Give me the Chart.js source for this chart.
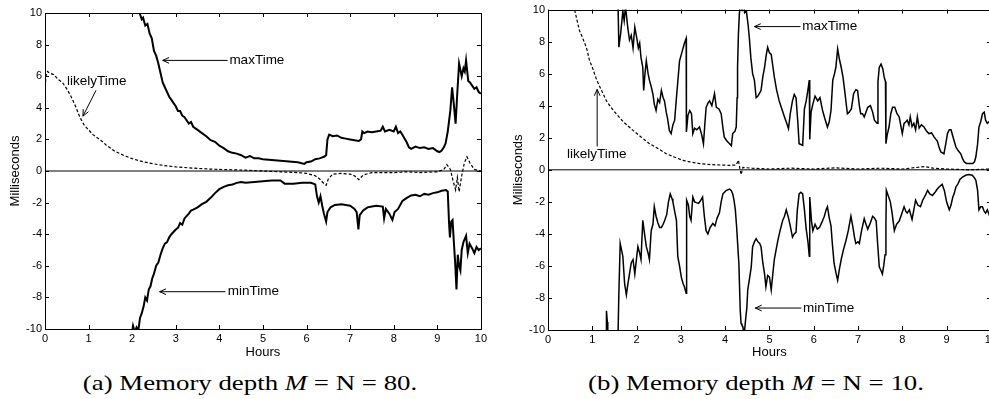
<!DOCTYPE html>
<html>
<head>
<meta charset="utf-8">
<title>Memory depth</title>
<script src="https://cdn.jsdelivr.net/npm/chart.js@4.4.0/dist/chart.umd.min.js"></script>
<style>
  body { margin: 0; background: #fff; width: 989px; height: 399px; overflow: hidden; position: relative; }
  canvas { position: absolute; top: 0; }
  .cap { position: absolute; top: 370px; width: 500px; text-align: center; transform: scaleX(1.22);
         font-family: 'Liberation Serif', serif; font-size: 22px; line-height: 26px; color: #000; }
</style>
</head>
<body>
<canvas id="chartA" width="490" height="360" style="left:0"></canvas>
<canvas id="chartB" width="500" height="360" style="left:500px"></canvas>
<div class="cap" style="left:0">(a) Memory depth <i>M</i> = N = 80.</div>
<div class="cap" style="left:506px">(b) Memory depth <i>M</i> = N = 10.</div>
<script>
/*------------------------------- DATA -------------------------------*/
// hours / milliseconds, one pair of arrays per curve
var hourTicks = [0, 1, 2, 3, 4, 5, 6, 7, 8, 9, 10];
var msTicks   = [-10, -8, -6, -4, -2, 0, 2, 4, 6, 8, 10];
var zeroT = [0, 10];
var zeroV = [0, 0];

// (a) M = N = 80
var likelyAT = [0, 0.02, 0.06, 0.1, 0.2, 0.3, 0.4, 0.5, 0.6, 0.7, 0.8, 0.9, 1.0, 1.1, 1.2, 1.3, 1.4, 1.5, 1.6, 1.8,
  2.0, 2.2, 2.4, 2.6, 2.8, 3.0, 3.2, 3.4, 3.6, 3.8, 4.0, 4.3, 4.6, 5.0, 5.4, 5.8, 6.0, 6.2, 6.3, 6.4, 6.45, 6.5, 6.6,
  6.8, 7.0, 7.1, 7.2, 7.3, 7.5, 7.8, 8.0, 8.3, 8.6, 9.0, 9.15, 9.22, 9.3, 9.36, 9.42, 9.46, 9.5, 9.56, 9.62, 9.68,
  9.75, 9.85, 10];
var likelyAV = [5.0, 6.0, 6.3, 6.2, 6.1, 5.8, 5.6, 5.2, 4.7, 4.1, 3.4, 2.9, 2.6, 2.3, 2.1, 1.9, 1.65, 1.45, 1.25, 1.0,
  0.78, 0.62, 0.5, 0.4, 0.32, 0.26, 0.22, 0.18, 0.15, 0.12, 0.1, 0.08, 0.05, 0.0, -0.05, -0.1, -0.15, -0.3, -0.5, -0.8,
  -0.9, -0.5, -0.2, -0.15, -0.2, -0.3, -0.55, -0.25, -0.1, -0.1, -0.1, -0.05, -0.1, -0.05, 0.1, 0.4, 0.1, -0.6, -1.2,
  -0.4, -1.3, -0.3, 0.5, 0.9, 0.5, 0.1, 0.0];

var maxAT = [2.0, 2.12, 2.17, 2.22, 2.25, 2.3, 2.35, 2.4, 2.45, 2.5, 2.55, 2.6, 2.65, 2.7, 2.75, 2.8, 2.85, 2.9, 2.95,
  3.0, 3.05, 3.1, 3.15, 3.2, 3.3, 3.35, 3.4, 3.5, 3.6, 3.7, 3.8, 3.9, 4.0, 4.1, 4.2, 4.3, 4.4, 4.5, 4.6, 4.7, 4.8, 4.9,
  5.0, 5.2, 5.4, 5.6, 5.8, 5.95, 6.0, 6.1, 6.2, 6.3, 6.4, 6.45, 6.48, 6.52, 6.6, 6.7, 6.8, 6.9, 7.0, 7.1, 7.2, 7.25,
  7.28, 7.32, 7.4, 7.5, 7.6, 7.7, 7.75, 7.8, 7.9, 8.0, 8.05, 8.1, 8.15, 8.2, 8.3, 8.35, 8.4, 8.5, 8.6, 8.7, 8.8, 8.9,
  9.0, 9.05, 9.1, 9.15, 9.19, 9.24, 9.3, 9.34, 9.38, 9.42, 9.46, 9.5, 9.56, 9.6, 9.63, 9.66, 9.71, 9.75, 9.8, 9.85,
  9.9, 9.95, 10];
var maxAV = [12, 10.6, 10.0, 9.6, 9.7, 9.2, 9.3, 8.7, 8.4, 7.6, 7.3, 6.8, 6.2, 5.6, 5.3, 5.0, 4.7, 4.5, 4.3,
  4.1, 3.8, 3.8, 3.5, 3.4, 3.0, 3.1, 2.8, 2.6, 2.4, 2.2, 1.95, 1.85, 1.6, 1.45, 1.25, 1.15, 1.1, 1.0, 0.85, 0.95, 0.8, 0.8,
  0.75, 0.7, 0.65, 0.6, 0.55, 0.45, 0.55, 0.6, 0.75, 0.8, 0.9, 1.0, 2.0, 2.3, 2.2, 2.25, 2.1, 2.05, 2.0, 1.95, 1.9, 2.0,
  2.5, 2.4, 2.5, 2.45, 2.5, 2.55, 2.8, 2.5, 2.6, 2.5, 2.8, 2.4, 2.5, 2.3, 1.8, 1.5, 1.4, 1.55, 1.45, 1.5, 1.4, 1.45,
  1.25, 1.2, 1.3, 1.5, 1.75, 2.5, 3.85, 5.3, 4.2, 3.0, 5.0, 6.8, 6.0, 6.5, 6.3, 7.0, 5.7, 5.6, 5.4, 5.2,
  5.3, 5.0, 4.9];

var minAT = [1.9, 2.02, 2.06, 2.1, 2.14, 2.18, 2.22, 2.26, 2.3, 2.34, 2.38, 2.42, 2.46, 2.5, 2.55, 2.6, 2.65, 2.7, 2.75,
  2.8, 2.85, 2.9, 3.0, 3.05, 3.1, 3.15, 3.2, 3.3, 3.35, 3.4, 3.5, 3.6, 3.7, 3.8, 3.9, 4.0, 4.1, 4.2, 4.3, 4.4, 4.5, 4.6,
  4.8, 5.0, 5.2, 5.4, 5.5, 5.7, 5.9, 6.1, 6.2, 6.24, 6.28, 6.32, 6.36, 6.4, 6.45, 6.48, 6.55, 6.65, 6.8, 6.9, 7.0, 7.1,
  7.15, 7.19, 7.22, 7.3, 7.4, 7.5, 7.6, 7.75, 7.78, 7.82, 7.9, 7.97, 8.02, 8.1, 8.2, 8.3, 8.4, 8.5, 8.6, 8.7, 8.8, 8.9,
  9.0, 9.1, 9.2, 9.24, 9.27, 9.29, 9.32, 9.35, 9.38, 9.41, 9.44, 9.47, 9.5, 9.53, 9.56, 9.6, 9.66, 9.7, 9.74, 9.8,
  9.85, 9.9, 9.95, 10];
var minAV = [-12, -9.8, -10.2, -9.9, -10.1, -9.3, -9.0, -8.6, -8.0, -8.2, -7.5, -7.3, -6.8, -6.5, -6.0, -5.8, -5.3, -4.9,
  -4.6, -4.5, -4.2, -4.0, -3.7, -3.6, -3.3, -3.4, -3.0, -2.7, -2.5, -2.45, -2.3, -2.1, -1.95, -1.7, -1.4, -1.15, -1.0,
  -0.9, -0.85, -0.75, -0.7, -0.75, -0.7, -0.65, -0.6, -0.6, -0.8, -0.8, -0.75, -0.75, -0.85, -1.6, -2.0, -1.6, -2.2,
  -2.7, -3.2, -2.6, -2.3, -2.15, -2.1, -2.15, -2.2, -2.4, -2.6, -3.7, -2.8, -2.5, -2.3, -2.25, -2.2, -2.25, -3.0, -2.4,
  -2.7, -3.1, -2.6, -2.4, -1.9, -1.7, -1.55, -1.5, -1.6, -1.45, -1.5, -1.4, -1.35, -1.25, -1.2, -1.3, -3.3, -4.2, -3.2,
  -3.1, -4.5, -5.8, -7.5, -5.3, -6.0, -6.3, -5.0, -4.5, -4.1, -5.2, -4.6, -4.9, -5.2, -4.8, -5.0, -4.9];

// (b) M = N = 10
var likelyBT = [0.3, 0.6, 0.65, 0.71, 0.77, 0.83, 0.88, 0.94, 1.0, 1.05, 1.1, 1.2, 1.32, 1.42, 1.54, 1.7, 1.92, 2.1,
  2.29, 2.5, 2.67, 2.85, 3.04, 3.2, 3.42, 3.7, 4.1, 4.25, 4.3, 4.33, 4.36, 4.4, 4.6, 5.0, 5.5, 6.0, 6.5, 7.0, 7.5, 8.0,
  8.5, 8.7, 9.0, 9.5, 10];
var likelyBV = [12, 10, 9.4, 8.7, 8.3, 7.9, 7.5, 6.8, 6.4, 6.0, 5.6, 5.0, 4.3, 3.9, 3.5, 3.0, 2.46, 2.05,
  1.63, 1.3, 1.0, 0.8, 0.59, 0.5, 0.39, 0.32, 0.28, 0.3, 0.6, 0.1, -0.3, 0.15, 0.1, 0.05, 0.1, 0.05, 0.12, 0.05, 0.1,
  0.05, 0.2, 0.1, 0.05, 0.0, 0.05];

var maxBT = [0, 1.55, 1.58, 1.6, 1.64, 1.69, 1.72, 1.75, 1.8, 1.84, 1.88, 1.92, 1.96, 2.0, 2.04, 2.07, 2.1, 2.14, 2.16,
  2.19, 2.22, 2.26, 2.29, 2.33, 2.37, 2.4, 2.44, 2.48, 2.52, 2.56, 2.6, 2.63, 2.67, 2.7, 2.74, 2.78, 2.82, 2.86, 2.9,
  2.94, 2.97, 3.02, 3.08, 3.12, 3.125, 3.16, 3.2, 3.24, 3.27, 3.31, 3.36, 3.42, 3.47, 3.51, 3.54, 3.57, 3.62, 3.65,
  3.7, 3.76, 3.8, 3.86, 3.91, 3.95, 3.98, 4.04, 4.1, 4.14, 4.17, 4.22, 4.25, 4.27, 4.28, 4.3, 4.32, 4.34, 4.38, 4.42,
  4.44, 4.48, 4.52, 4.55, 4.58, 4.62, 4.66, 4.7, 4.74, 4.78, 4.81, 4.85, 4.89, 4.93, 4.96, 5.0, 5.04, 5.08, 5.11,
  5.16, 5.22, 5.28, 5.34, 5.39, 5.43, 5.47, 5.52, 5.56, 5.6, 5.64, 5.67, 5.75, 5.79, 5.83, 5.87, 5.9, 5.91, 5.94,
  5.98, 6.03, 6.09, 6.14, 6.2, 6.25, 6.31, 6.35, 6.39, 6.43, 6.47, 6.5, 6.54, 6.58, 6.62, 6.66, 6.69, 6.73, 6.76, 6.8,
  6.85, 6.9, 6.95, 6.99, 7.03, 7.06, 7.1, 7.14, 7.18, 7.22, 7.28, 7.33, 7.37, 7.43, 7.45, 7.48, 7.52, 7.56, 7.59,
  7.62, 7.63, 7.66, 7.7, 7.74, 7.78, 7.83, 7.88, 7.93, 7.97, 8.0, 8.04, 8.08, 8.11, 8.15, 8.18, 8.22, 8.26, 8.3, 8.34,
  8.38, 8.43, 8.49, 8.55, 8.6, 8.66, 8.72, 8.76, 8.79, 8.83, 8.87, 8.94, 8.98, 9.02, 9.06, 9.1, 9.15, 9.21, 9.26,
  9.32, 9.36, 9.4, 9.45, 9.51, 9.59, 9.63, 9.66, 9.7, 9.73, 9.77, 9.81, 9.85, 9.88, 9.92, 9.96, 10];
var maxBV = [12, 12, 10.5, 7.65, 8.5, 9.9, 9.3, 10.2, 8.9, 8.1, 8.4, 7.6, 8.9, 8.3, 7.6, 7.9, 7.0, 6.4, 4.95,
  6.0, 6.8, 6.0, 5.6, 5.2, 4.7, 4.1, 3.7, 4.4, 4.2, 4.95, 4.5, 4.3, 3.6, 3.2, 2.46, 2.26, 2.8, 3.1, 4.5,
  5.8, 6.8, 7.3, 7.9, 8.2, 2.36, 3.4, 3.7, 3.5, 2.26, 2.6, 2.5, 2.67, 2.2, 1.63, 2.8, 3.9, 4.2, 4.3,
  4.0, 4.75, 3.9, 3.8, 3.5, 2.6, 2.04, 1.8, 1.63, 1.5, 2.26, 2.4, 2.67, 4.5, 6.4, 8.5, 9.7, 10.3, 10.0, 10.4,
  9.8, 9.9, 9.0, 8.1, 7.0, 6.0, 5.6, 4.5, 4.6, 4.8, 4.95, 5.8, 6.4, 7.2, 7.65, 7.3, 7.2, 6.4, 5.8,
  5.0, 4.3, 3.8, 3.3, 2.9, 2.57, 3.5, 4.3, 4.7, 4.5, 3.0, 1.63, 1.53, 3.8, 4.3, 5.0, 5.6, 1.9, 3.6,
  4.1, 4.6, 4.3, 4.5, 3.7, 3.2, 2.67, 3.0, 3.7, 5.6, 6.0, 6.4, 7.55, 6.9, 6.4, 5.8, 5.15, 4.2, 3.5, 3.6,
  3.8, 4.75, 5.0, 4.95, 4.0, 3.5, 3.5, 3.3, 3.6, 3.9, 4.0, 3.6, 3.1, 2.9, 5.5, 6.4, 6.6, 6.3, 5.8,
  5.5, 1.63, 2.2, 2.67, 3.5, 3.9, 3.9, 3.5, 3.3, 2.7, 2.26, 2.9, 3.0, 3.1, 2.8, 3.3, 2.7, 2.9, 2.5, 3.3,
  2.6, 2.8, 2.67, 2.4, 2.26, 2.3, 2.04, 1.9, 1.8, 1.4, 1.11, 1.0, 1.6, 2.26, 2.5, 2.5, 2.0, 1.42, 1.2,
  1.0, 0.7, 0.49, 0.4, 0.39, 0.39, 0.5, 0.8, 1.6, 2.67, 3.0, 3.5, 3.6, 3.1, 2.9, 3.0, 2.8];

var minBT = [0, 1.3, 1.31, 1.32, 1.34, 1.35, 1.55, 1.58, 1.6, 1.63, 1.66, 1.69, 1.73, 1.77, 1.8, 1.84, 1.88, 1.92, 1.96,
  2.0, 2.03, 2.07, 2.1, 2.14, 2.18, 2.22, 2.26, 2.29, 2.33, 2.37, 2.4, 2.44, 2.48, 2.52, 2.56, 2.6, 2.63, 2.68, 2.72,
  2.76, 2.8, 2.82, 2.86, 2.9, 2.93, 2.97, 3.01, 3.05, 3.08, 3.12, 3.13, 3.17, 3.2, 3.23, 3.27, 3.31, 3.35, 3.4, 3.45,
  3.49, 3.53, 3.57, 3.61, 3.66, 3.72, 3.77, 3.82, 3.87, 3.91, 3.95, 4.02, 4.1, 4.14, 4.17, 4.2, 4.23, 4.26, 4.29, 4.31,
  4.34, 4.36, 4.38, 4.4, 4.43, 4.46, 4.49, 4.51, 4.55, 4.59, 4.62, 4.66, 4.7, 4.74, 4.78, 4.81, 4.85, 4.89, 4.92, 4.96,
  5.0, 5.04, 5.08, 5.11, 5.15, 5.19, 5.24, 5.3, 5.34, 5.38, 5.43, 5.47, 5.52, 5.56, 5.6, 5.63, 5.67, 5.71, 5.75, 5.79,
  5.83, 5.87, 5.9, 5.91, 5.95, 5.98, 6.03, 6.08, 6.13, 6.18, 6.24, 6.28, 6.31, 6.35, 6.39, 6.42, 6.46, 6.5, 6.54, 6.58,
  6.62, 6.67, 6.73, 6.78, 6.84, 6.88, 6.92, 6.95, 7.0, 7.03, 7.08, 7.14, 7.18, 7.22, 7.28, 7.33, 7.37, 7.41, 7.44, 7.48,
  7.52, 7.55, 7.58, 7.61, 7.63, 7.64, 7.68, 7.73, 7.77, 7.82, 7.87, 7.93, 7.98, 8.04, 8.08, 8.11, 8.16, 8.22, 8.26, 8.3,
  8.35, 8.41, 8.46, 8.52, 8.57, 8.62, 8.68, 8.74, 8.79, 8.83, 8.9, 8.95, 9.0, 9.06, 9.1, 9.14, 9.17, 9.21, 9.26, 9.3,
  9.36, 9.43, 9.5, 9.58, 9.63, 9.66, 9.7, 9.73, 9.77, 9.81, 9.85, 9.88, 9.92, 9.96, 10];
var minBV = [-12, -12, -10.5, -8.8, -9.5, -12, -12, -10.5, -7.7, -4.6, -5.0, -5.4, -7.1, -7.8, -7.2, -6.5, -5.8, -5.6, -6.5,
  -5.5, -4.8, -5.2, -5.6, -3.15, -4.0, -4.8, -5.2, -5.6, -3.8, -3.4, -2.3, -2.9, -3.3, -3.6, -3.6, -3.4, -3.2, -2.8, -2.0,
  -1.5, -1.8, -2.0, -2.6, -3.15, -5.4, -6.0, -6.7, -7.1, -7.3, -7.7, -1.9, -2.2, -2.9, -3.15, -1.7, -2.0, -2.05, -2.1, -1.9,
  -1.7, -2.9, -3.8, -4.0, -3.6, -3.35, -3.5, -3.0, -2.7, -2.0, -1.5, -1.3, -1.2, -1.3, -1.5, -1.9, -2.5, -3.6, -5.0, -5.85,
  -8.75, -9.6, -9.7, -9.8, -10.3, -9.4, -8.6, -7.5, -6.8, -6.05, -4.8, -4.5, -4.3, -4.5, -4.6, -4.8, -5.8, -6.5, -7.3, -6.6,
  -6.7, -7.5, -6.4, -5.6, -5.0, -4.4, -3.8, -3.15, -2.9, -2.5, -3.0, -3.5, -4.2, -4.0, -3.9, -2.5, -1.5, -1.4, -1.5, -2.5,
  -3.7, -4.5, -5.4, -1.7, -3.2, -3.8, -3.4, -3.7, -3.6, -3.3, -2.9, -2.5, -2.3, -3.0, -3.5, -4.6, -5.85, -6.4, -6.9, -6.2,
  -5.6, -5.0, -4.4, -3.8, -2.9, -3.5, -4.2, -4.6, -4.5, -4.6, -3.8, -3.05, -3.4, -3.7, -3.3, -2.9, -3.0, -3.2, -4.5, -6.05,
  -6.3, -6.5, -6.0, -5.3, -3.5, -1.28, -1.6, -2.0, -2.7, -3.8, -3.4, -3.2, -2.8, -2.3, -2.6, -2.7, -2.5, -3.1, -2.5, -1.9,
  -2.2, -2.3, -1.9, -1.6, -1.28, -1.5, -1.6, -1.4, -1.2, -1.07, -0.9, -1.3, -2.0, -2.5, -2.2, -1.7, -1.5, -1.07, -0.86, -0.6,
  -0.45, -0.34, -0.3, -0.34, -0.5, -0.65, -1.28, -2.5, -2.3, -2.3, -2.6, -2.7, -2.5, -2.8, -2.6];

/*--------------------------- ANNOTATIONS ----------------------------*/
// arrow tip / tail and label anchor, in data units
var notesA = [
  { text: 'maxTime',    tip: [2.70, 7.0],   tail: [4.19, 7.0],   at: [4.23, 7.0],   align: 'left' },
  { text: 'likelyTime', tip: [0.87, 3.47],  tail: [1.17, 5.1],   at: [1.19, 5.65],  align: 'center' },
  { text: 'minTime',    tip: [2.63, -7.64], tail: [4.14, -7.64], at: [4.19, -7.64], align: 'left' }
];
var notesB = [
  { text: 'maxTime',    tip: [4.66, 8.94],  tail: [5.70, 8.94],  at: [5.74, 8.94],  align: 'left' },
  { text: 'likelyTime', tip: [1.11, 5.02],  tail: [1.11, 1.46],  at: [1.10, 0.97],  align: 'center' },
  { text: 'minTime',    tip: [4.68, -8.63], tail: [5.72, -8.63], at: [5.76, -8.63], align: 'left' }
];

/*----------------------------- HELPERS ------------------------------*/
function pts(ts, vs) {
  return ts.map(function(t, i) { return { x: t, y: vs[i] }; });
}

var sans = "'Liberation Sans', Arial, sans-serif";

// MATLAB style box with inward tick marks on all four sides
var boxTicks = {
  id: 'boxTicks',
  afterDatasetsDraw: function(chart) {
    var ctx = chart.ctx, a = chart.chartArea;
    var xs = chart.scales.x, ys = chart.scales.y, len = 4;
    ctx.save();
    ctx.strokeStyle = '#000';
    ctx.lineWidth = 1;
    ctx.beginPath();
    hourTicks.forEach(function(h) {
      var px = Math.round(xs.getPixelForValue(h)) + 0.5;
      ctx.moveTo(px, a.bottom); ctx.lineTo(px, a.bottom - len);
      ctx.moveTo(px, a.top);    ctx.lineTo(px, a.top + len);
    });
    msTicks.forEach(function(m) {
      var py = Math.round(ys.getPixelForValue(m)) + 0.5;
      ctx.moveTo(a.left, py);  ctx.lineTo(a.left + len, py);
      ctx.moveTo(a.right, py); ctx.lineTo(a.right - len, py);
    });
    ctx.stroke();
    ctx.strokeRect(Math.round(a.left) + 0.5, Math.round(a.top) + 0.5,
                   Math.round(a.right - a.left), Math.round(a.bottom - a.top));
    ctx.restore();
  }
};

// arrows with their labels
var arrowNotes = {
  id: 'arrowNotes',
  afterDraw: function(chart, args, opts) {
    var ctx = chart.ctx, xs = chart.scales.x, ys = chart.scales.y;
    ctx.save();
    ctx.strokeStyle = '#000';
    ctx.fillStyle = '#000';
    ctx.lineWidth = 1;
    ctx.font = '13.5px ' + sans;
    ctx.textBaseline = 'middle';
    (opts.notes || []).forEach(function(n) {
      var x1 = xs.getPixelForValue(n.tail[0]), y1 = ys.getPixelForValue(n.tail[1]);
      var x2 = xs.getPixelForValue(n.tip[0]),  y2 = ys.getPixelForValue(n.tip[1]);
      var ang = Math.atan2(y2 - y1, x2 - x1), head = 7, spread = 0.42;
      ctx.beginPath();
      ctx.moveTo(x1, y1); ctx.lineTo(x2, y2);
      ctx.moveTo(x2 - head * Math.cos(ang - spread), y2 - head * Math.sin(ang - spread));
      ctx.lineTo(x2, y2);
      ctx.lineTo(x2 - head * Math.cos(ang + spread), y2 - head * Math.sin(ang + spread));
      ctx.stroke();
      ctx.textAlign = n.align;
      ctx.fillText(n.text, xs.getPixelForValue(n.at[0]), ys.getPixelForValue(n.at[1]));
    });
    ctx.restore();
  }
};

function makeChart(id, series, notes, pad, yWidth, xHeight, lineW) {
  return new Chart(document.getElementById(id), {
    type: 'line',
    data: {
      datasets: [
        { data: pts(zeroT, zeroV), borderColor: '#000', borderWidth: 1 },
        { data: pts(series[0], series[1]), borderColor: '#000', borderWidth: 1.2, borderDash: [3, 2] },
        { data: pts(series[2], series[3]), borderColor: '#000', borderWidth: lineW },
        { data: pts(series[4], series[5]), borderColor: '#000', borderWidth: lineW }
      ]
    },
    options: {
      responsive: false,
      animation: false,
      layout: { padding: pad },
      elements: { point: { radius: 0 }, line: { tension: 0, borderJoinStyle: 'miter' } },
      datasets: { line: { clip: 0, fill: false } },
      plugins: { legend: { display: false }, tooltip: { enabled: false }, arrowNotes: { notes: notes } },
      scales: {
        x: {
          type: 'linear', min: 0, max: 10,
          afterFit: function(s) { s.height = xHeight; },
          afterBuildTicks: function(s) { s.ticks = hourTicks.map(function(v) { return { value: v }; }); },
          grid: { display: false, drawTicks: false },
          border: { display: false },
          ticks: { color: '#000', font: { family: sans, size: 11 }, padding: 3, maxRotation: 0, autoSkip: false },
          title: { display: true, text: 'Hours', color: '#000', font: { family: sans, size: 13 }, padding: 0 }
        },
        y: {
          type: 'linear', min: -10, max: 10,
          afterFit: function(s) { s.width = yWidth; },
          afterBuildTicks: function(s) { s.ticks = msTicks.map(function(v) { return { value: v }; }); },
          grid: { display: false, drawTicks: false },
          border: { display: false },
          ticks: { color: '#000', font: { family: sans, size: 11 }, padding: 3, autoSkip: false },
          title: { display: true, text: 'Milliseconds', color: '#000', font: { family: sans, size: 13 }, padding: 0 }
        }
      }
    },
    plugins: [boxTicks, arrowNotes]
  });
}

/*----------------------------- CHARTS -------------------------------*/
makeChart('chartA', [likelyAT, likelyAV, maxAT, maxAV, minAT, minAV], notesA,
  { left: 8, top: 13, right: 8, bottom: 0 }, 37, 31, 2);
makeChart('chartB', [likelyBT, likelyBV, maxBT, maxBV, minBT, minBV], notesB,
  { left: 11, top: 9, right: 9, bottom: 0 }, 37, 30, 1.5);
</script>
</body>
</html>
